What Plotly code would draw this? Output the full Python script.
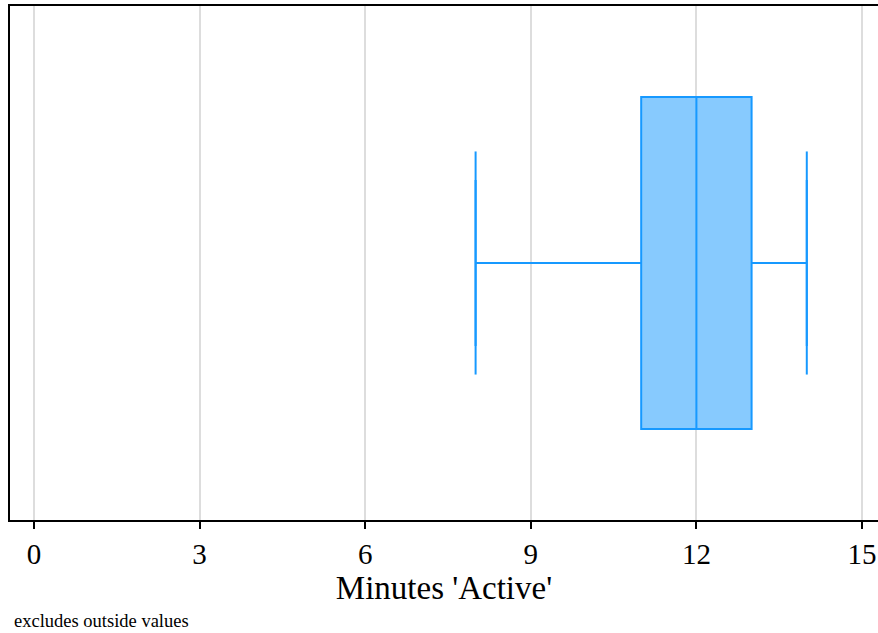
import plotly.graph_objects as go

# Data (summary statistics)
q1 = [11]
median = [12]
q3 = [13]
lower_whisker = [8]
upper_whisker = [14]
x_ticks = [0, 3, 6, 9, 12, 15]
x_title = "Minutes 'Active'"
note = "excludes outside values"

line_color = "#1799FF"
fill_color = "#87CAFE"
font_family = "Liberation Serif, Times New Roman, serif"

fig = go.Figure()
fig.add_trace(go.Box(
    y=[0],
    q1=q1, median=median, q3=q3,
    lowerfence=lower_whisker, upperfence=upper_whisker,
    orientation="h",
    width=0.646,
    fillcolor=fill_color,
    line=dict(color=line_color, width=2),
    boxpoints=False,
    hoverinfo="x",
))

cap = 0.217
cx, cy = [], []
for v in lower_whisker + upper_whisker:
    cx += [v, v, None]
    cy += [-cap, cap, None]
fig.add_trace(go.Scatter(x=cx, y=cy, mode="lines",
                         line=dict(color=line_color, width=2),
                         hoverinfo="skip"))

fig.update_layout(
    width=878, height=633,
    margin=dict(l=10, r=0, t=6, b=113),
    paper_bgcolor="white", plot_bgcolor="white",
    showlegend=False,
    font=dict(family=font_family, color="black"),
    xaxis=dict(
        range=[-0.4348, 15.29],
        automargin=False,
        tickmode="array", tickvals=x_ticks, ticktext=[str(t) for t in x_ticks],
        tickfont=dict(size=29, family=font_family),
        ticks="outside", ticklen=7, tickwidth=1.5, tickcolor="black",
        showgrid=True, gridcolor="#DDDDDD", gridwidth=2,
        showline=True, linecolor="black", linewidth=2, mirror=True,
        zeroline=False,
        title=dict(text=x_title, font=dict(size=33, family=font_family), standoff=0),
    ),
    yaxis=dict(
        range=[-0.5, 0.5],
        automargin=False,
        showticklabels=False, showgrid=False, zeroline=False, ticks="",
        showline=True, linecolor="black", linewidth=2, mirror=False,
    ),
    annotations=[dict(
        text=note, xref="paper", yref="paper", x=0, y=-0.196, xanchor="left",
        yanchor="middle", showarrow=False,
        font=dict(size=18.5, family=font_family, color="black"),
        xshift=2,
    )],
)

fig.write_html("out.html", config={"displayModeBar": False},
               post_script="document.body.style.margin='0';")
